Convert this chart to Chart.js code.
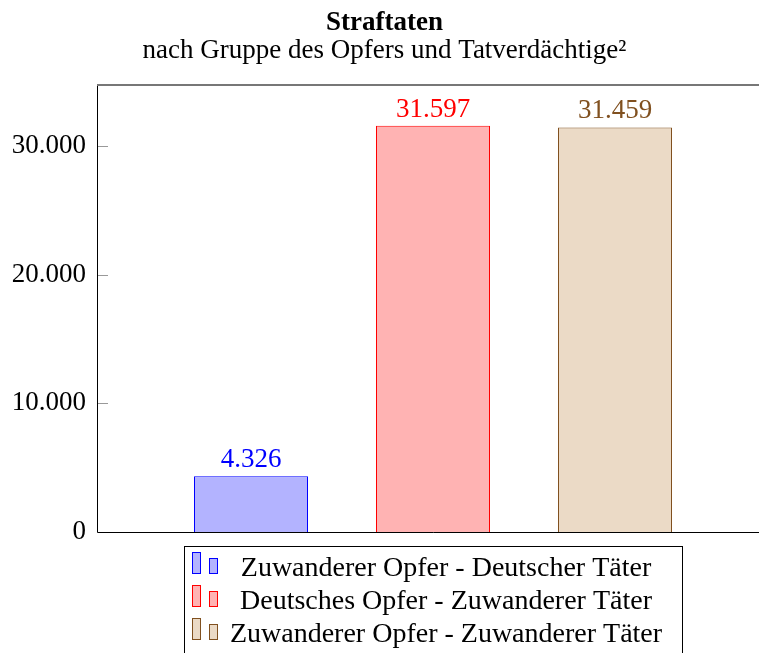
<!DOCTYPE html>
<html lang="de">
<head>
<meta charset="utf-8">
<title>Straftaten</title>
<script src="https://cdn.jsdelivr.net/npm/chart.js@4.4.1/dist/chart.umd.min.js"></script>
<style>
  html, body { margin: 0; padding: 0; overflow: hidden; background: #fff; }
  canvas { display: block; }
</style>
</head>
<body>
<canvas id="grafica" width="826" height="653"></canvas>
<script>
// Daten
const kategorien = ["Straftaten"];
const serienNamen = [
  "Zuwanderer Opfer - Deutscher Täter",
  "Deutsches Opfer - Zuwanderer Täter",
  "Zuwanderer Opfer - Zuwanderer Täter"
];
const serienWerte = [
  [4326],
  [31597],
  [31459]
];
const yTicks = [0, 10000, 20000, 30000];
const yMax = 34757;

// Farben
const fuellung = ["#b3b3ff", "#ffb3b3", "#ebdac6"];
const rand = ["#0000ff", "#ff0000", "#80501f"];

const SCHRIFT = "'Liberation Serif', 'Times New Roman', serif";

// Tausenderpunkt wie im Original
function formatiere(v) {
  return String(v).replace(/\B(?=(\d{3})+(?!\d))/g, ".");
}

// Rahmen, Ticks nach innen, Werte über den Balken, Legende
const extras = {
  id: "extras",
  afterDatasetsDraw(chart) {
    const ctx = chart.ctx;
    const area = chart.chartArea;
    const y = chart.scales.y;

    ctx.save();
    // kleine Ticks nach innen
    ctx.strokeStyle = "#999";
    ctx.lineWidth = 1;
    yTicks.forEach(t => {
      if (t === 0) return;
      const py = Math.round(y.getPixelForValue(t)) + 0.5;
      ctx.beginPath();
      ctx.moveTo(area.left, py);
      ctx.lineTo(area.left + 11, py);
      ctx.stroke();
    });

    // Achsenrahmen
    ctx.strokeStyle = "#000";
    ctx.beginPath();
    ctx.moveTo(area.left + 0.5, area.top);
    ctx.lineTo(area.left + 0.5, area.bottom + 0.5);
    ctx.lineTo(area.right, area.bottom + 0.5);
    ctx.lineTo(area.right, area.top);
    ctx.stroke();
    ctx.strokeStyle = "#777";
    ctx.lineWidth = 2;
    ctx.beginPath();
    ctx.moveTo(area.left, area.top);
    ctx.lineTo(area.right, area.top);
    ctx.stroke();

    // Werte über den Balken
    ctx.font = "27px " + SCHRIFT;
    ctx.textAlign = "center";
    ctx.textBaseline = "alphabetic";
    chart.data.datasets.forEach((ds, i) => {
      const meta = chart.getDatasetMeta(i);
      meta.data.forEach((bar, j) => {
        ctx.fillStyle = rand[i];
        ctx.fillText(formatiere(ds.data[j]), bar.x, bar.y - 9);
      });
    });

    // Legende
    const boxLinks = 184, boxOben = area.bottom + 14, boxBreite = 498;
    const zeile = 33;
    ctx.font = "28px " + SCHRIFT;
    ctx.strokeStyle = "#000";
    ctx.lineWidth = 1;
    ctx.strokeRect(boxLinks + 0.5, boxOben + 0.5, boxBreite, zeile * 3 + 12);
    chart.data.datasets.forEach((ds, i) => {
      const oben = boxOben + 6 + i * zeile;
      ctx.fillStyle = ds.backgroundColor;
      ctx.strokeStyle = ds.borderColor;
      ctx.fillRect(boxLinks + 8, oben, 8, 21);
      ctx.strokeRect(boxLinks + 8.5, oben + 0.5, 8, 21);
      ctx.fillRect(boxLinks + 25, oben + 6, 8, 15);
      ctx.strokeRect(boxLinks + 25.5, oben + 6.5, 8, 15);
      ctx.fillStyle = "#000";
      ctx.textAlign = "center";
      ctx.fillText(ds.label, 446, oben + 24);
    });
    ctx.restore();
  }
};

new Chart(document.getElementById("grafica").getContext("2d"), {
  type: "bar",
  data: {
    labels: kategorien,
    datasets: serienNamen.map((name, i) => ({
      label: name,
      data: serienWerte[i],
      backgroundColor: fuellung[i],
      borderColor: rand[i],
      borderWidth: 1,
      borderSkipped: "bottom"
    }))
  },
  options: {
    responsive: false,
    animation: false,
    devicePixelRatio: 1,
    layout: { padding: { left: 0, right: 57, top: 0, bottom: 121 } },
    categoryPercentage: 546 / 672,
    barPercentage: 114 / 182,
    plugins: {
      legend: { display: false },
      tooltip: { enabled: false },
      title: {
        display: true,
        text: "Straftaten",
        color: "#000",
        font: { family: SCHRIFT, size: 27, weight: "bold", lineHeight: 1 },
        padding: { top: 10, bottom: 0 }
      },
      subtitle: {
        display: true,
        text: "nach Gruppe des Opfers und Tatverdächtige²",
        color: "#000",
        font: { family: SCHRIFT, size: 27, lineHeight: 1 },
        padding: { top: 0, bottom: 21 }
      }
    },
    scales: {
      x: { display: false },
      y: {
        min: 0,
        max: yMax,
        afterBuildTicks(scale) {
          scale.ticks = yTicks.map(v => ({ value: v }));
        },
        afterFit(scale) { scale.width = 97; },
        grid: { display: false, drawTicks: false },
        border: { display: false },
        ticks: {
          padding: 11,
          color: "#000",
          font: { family: SCHRIFT, size: 27 },
          callback: v => formatiere(v)
        }
      }
    }
  },
  plugins: [extras]
});
</script>
</body>
</html>
